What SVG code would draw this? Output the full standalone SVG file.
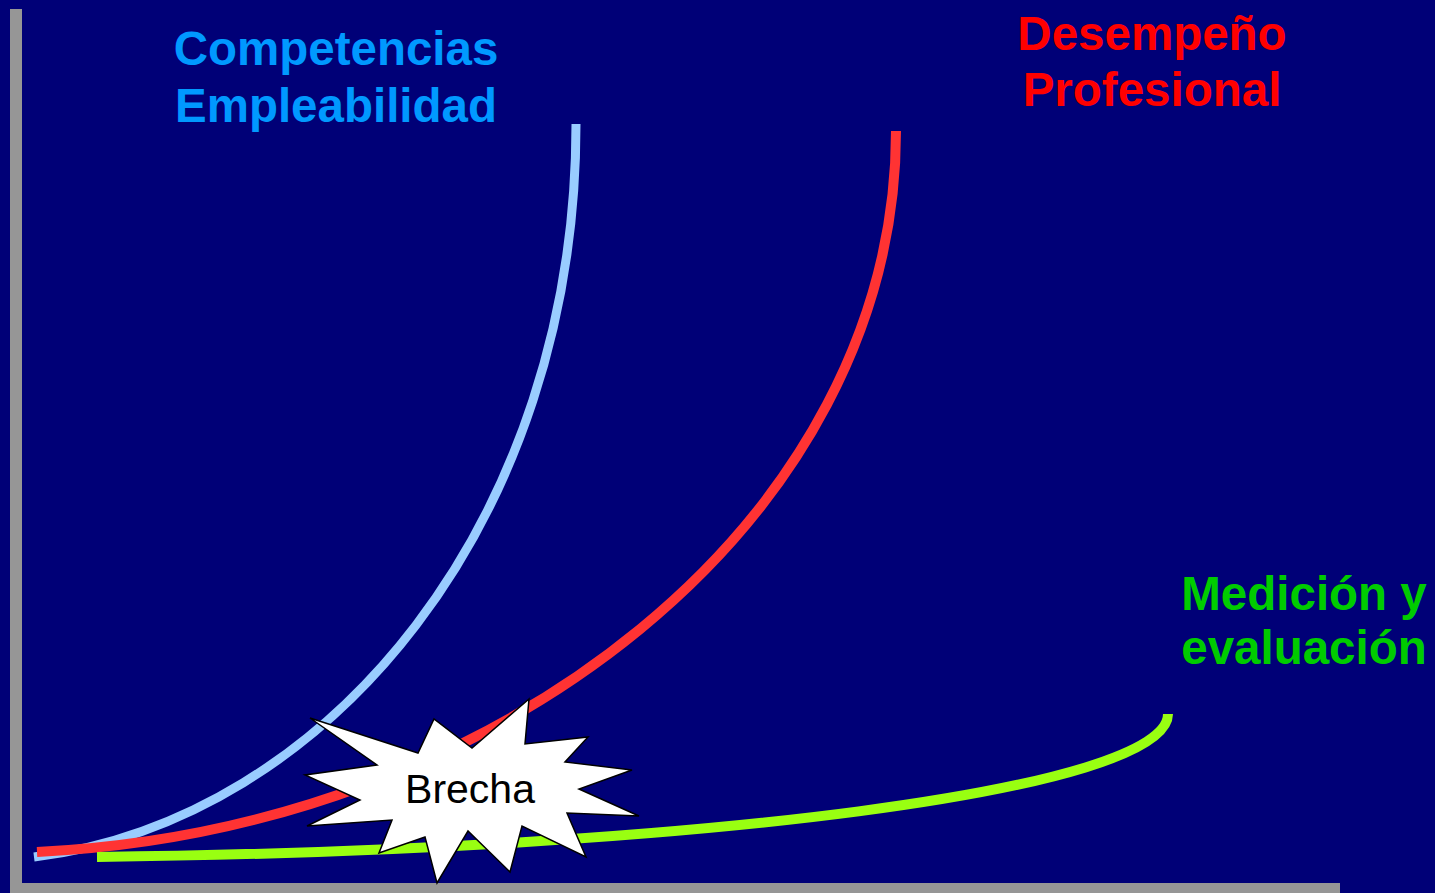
<svg xmlns="http://www.w3.org/2000/svg" width="1435" height="893" viewBox="0 0 1435 893">
<style>
.t{font-family:"Liberation Sans",Arial,sans-serif;font-weight:bold;font-size:47.5px;text-anchor:middle}
.c{fill:none;stroke-linecap:butt}
</style>
<rect x="0" y="0" width="1435" height="893" fill="#000077"/>
<g id="axes" fill="#969696">
<rect x="10" y="9" width="12" height="884"/>
<rect x="10" y="883" width="1330" height="10"/>
</g>
<g id="connectors">
<path class="c" d="M34,857 C330,820 576,520 576,124" stroke="#99CCFF" stroke-width="9"/>
<path class="c" d="M37,852 C500,830 896,520 896,131" stroke="#FF3333" stroke-width="10"/>
<path class="c" d="M97,857 C700,850 1168,790 1168,714" stroke="#99FF11" stroke-width="10"/>
</g>
<g id="brecha">
<polygon points="310,718 418,753 434,719 472,748 529,699 525,744 588,737 565,762 632,770 579,789 639,816 567,813 586,857 522,826 510,872 468,831 437,883 425,837 379,853 392,820 307,826 360,800 305,775 377,765" fill="#FFFFFF" stroke="#000000" stroke-width="1.5" stroke-linejoin="miter"/>
<text x="470" y="803" font-family="Liberation Sans,Arial,sans-serif" font-size="41" text-anchor="middle" fill="#000000">Brecha</text>
</g>
<g id="competencias">
<text class="t" x="336" y="65" fill="#0099FF">Competencias</text>
<text class="t" x="336" y="122" fill="#0099FF">Empleabilidad</text>
</g>
<g id="desempeno">
<text class="t" x="1152" y="50" fill="#FF0000">Desempeño</text>
<text class="t" x="1152" y="106" fill="#FF0000">Profesional</text>
</g>
<g id="medicion">
<text class="t" x="1304" y="610" fill="#00CC00">Medición y</text>
<text class="t" x="1304" y="664" fill="#00CC00">evaluación</text>
</g>
</svg>
